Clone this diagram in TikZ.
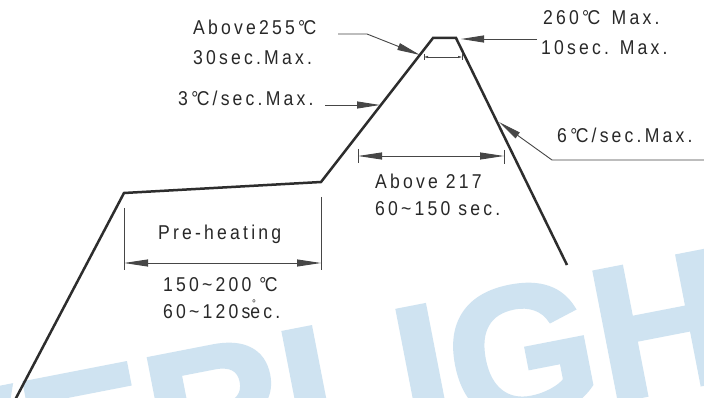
\documentclass[tikz,border=0pt]{standalone}
\usepackage{fontspec}
\setmainfont{Liberation Sans}
\newfontfamily\lblfont{Liberation Sans}[LetterSpace=16,FakeStretch=0.88]
\newfontfamily\wmfont{Liberation Sans}[BoldFeatures={FakeBold=2}]
\usetikzlibrary{arrows.meta}
\definecolor{curvecol}{RGB}{45,45,45}
\definecolor{leadcol}{RGB}{70,70,70}
\definecolor{txtcol}{RGB}{40,40,40}
\definecolor{wmblue}{RGB}{207,227,241}
\newcommand\degC{°\kern-0.08em C}
\begin{document}
\begin{tikzpicture}[x=1pt,y=-1pt,
  lbl/.style={font=\lblfont\fontsize{20}{22}\selectfont, text=txtcol, inner sep=0, anchor=base west},
  curve/.style={draw=curvecol, line width=2.5pt, line join=miter},
  lead/.style={draw=leadcol, line width=0.9pt},
  tip/.style={-{Triangle[length=23pt,width=7pt]}},
  dim/.style={lead, {Triangle[length=24pt,width=7pt]}-{Triangle[length=24pt,width=7pt]}},
  smalldim/.style={draw=leadcol, line width=0.6pt, {Triangle[length=4pt,width=2pt]}-{Triangle[length=4pt,width=2pt]}},
  tick/.style={draw=leadcol, line width=0.8pt}]
\useasboundingbox (0,0) rectangle (704,398);
\fill[white] (0,0) rectangle (704,398);
\begin{scope}
\clip (0,0) rectangle (704,398);
\node[font=\wmfont\bfseries\fontsize{190}{200}\selectfont, text=wmblue, rotate=11, anchor=base west, inner sep=0] (wm) at (-212,562) {EVERLIGHT};
\end{scope}
% profile
\coordinate (p0) at (15,400);
\coordinate (p1) at (124,193);
\coordinate (p2) at (321,182);
\coordinate (p3) at (433,38);
\coordinate (p4) at (456,38);
\coordinate (p5) at (567,265);
\draw[curve] (p0) -- (p1) -- (p2) -- (p3) -- (p4) -- (p5);
% labels
\node[lbl] (a255) at (193,35) {Above255\degC};
\node[lbl] (s30) at (193,65) {30sec.Max.};
\node[lbl] (r3) at (178,106) {3\,\degC/sec.Max.};
\node[lbl] (t260) at (543,25) {260\degC\ \,Max.};
\node[lbl] (s10) at (541,55) {10sec. Max.};
\node[lbl] (r6) at (557,143) {6\,\degC/sec.Max.};
\node[lbl] (a217) at (375,189) {Above 217};
\node[lbl] (s60) at (375,215) {60\textasciitilde150 sec.};
\node[lbl] (pre) at (158,240) {Pre-heating};
\node[lbl] (t150) at (163,291) {150\textasciitilde200 \degC};
\node[lbl] (s120) at (163,318) {60\textasciitilde120s\makebox[0pt][l]{\kern0.08em\raisebox{0.55em}{\fontsize{11}{12}\selectfont°}}ec.};
% leaders
\coordinate (l1a) at (338,34); \coordinate (l1b) at (367,34); \coordinate (l1t) at (420,55);
\draw[lead,tip] (l1a) -- (l1b) -- (l1t);
\coordinate (l2a) at (325,105); \coordinate (l2t) at (380,105);
\draw[lead,tip] (l2a) -- (l2t);
\coordinate (l3a) at (537,39); \coordinate (l3t) at (461,39);
\draw[lead,tip] (l3a) -- (l3t);
\coordinate (l4a) at (704,160); \coordinate (l4b) at (552,160); \coordinate (l4t) at (499,122);
\draw[lead,tip] (l4a) -- (l4b) -- (l4t);
% pre-heating dimension
\coordinate (d1a) at (124,208); \coordinate (d1b) at (124,270);
\coordinate (d1c) at (321,197); \coordinate (d1d) at (321,270);
\draw[tick] (d1a) -- (d1b);
\draw[tick] (d1c) -- (d1d);
\coordinate (d1l) at (124,263); \coordinate (d1r) at (321,263);
\draw[dim] (d1l) -- (d1r);
% above 217 dimension
\coordinate (d2a) at (358,149); \coordinate (d2b) at (358,163);
\coordinate (d2c) at (504,150); \coordinate (d2d) at (504,164);
\draw[tick] (d2a) -- (d2b);
\draw[tick] (d2c) -- (d2d);
\coordinate (d2l) at (358,156); \coordinate (d2r) at (504,156);
\draw[dim] (d2l) -- (d2r);
% top small dimension
\coordinate (d3a) at (424,54); \coordinate (d3b) at (424,60);
\coordinate (d3c) at (462,54); \coordinate (d3d) at (462,60);
\draw[tick,line width=0.5pt] (d3a) -- (d3b);
\draw[tick,line width=0.5pt] (d3c) -- (d3d);
\coordinate (d3l) at (424,57); \coordinate (d3r) at (462,57);
\draw[smalldim] (d3l) -- (d3r);
\end{tikzpicture}
\end{document}
